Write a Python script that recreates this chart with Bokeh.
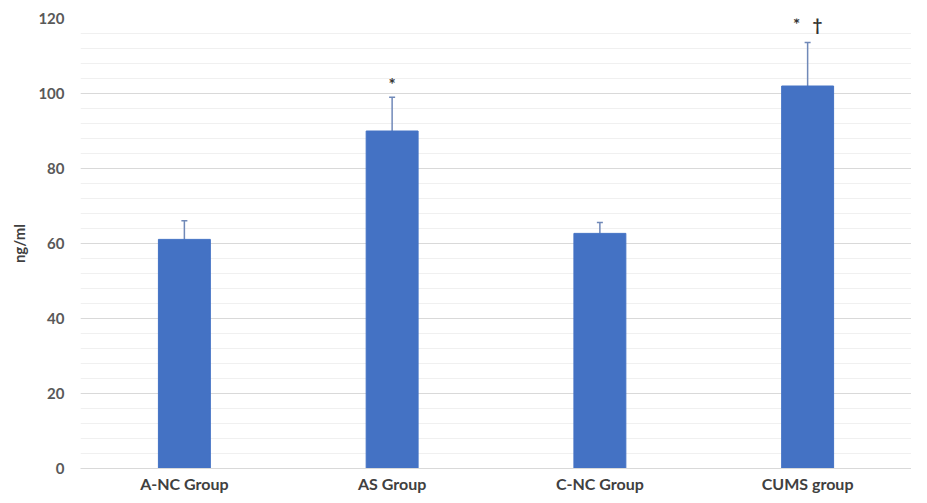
from bokeh.plotting import figure
from bokeh.models import ColumnDataSource, Whisker, FactorRange, SingleIntervalTicker, Range1d, TeeHead
from bokeh.core.properties import value
from bokeh.embed import file_html
from bokeh.resources import INLINE

groups = ["A-NC Group", "AS Group", "C-NC Group", "CUMS group"]
means = [61.1, 90.0, 62.7, 102.0]
errors = [5.0, 9.0, 2.9, 11.6]
marks = ["", "*", "", "*\u00a0\u00a0\u00a0\u2020"]
mark_y = [0, 102.5, 0, 118.4]

upper = [m + e for m, e in zip(means, errors)]
src = ColumnDataSource(dict(g=groups, m=means, up=upper, lo=means))
msrc = ColumnDataSource(dict(g=[g for g, t in zip(groups, marks) if t],
                             y=[y for y, t in zip(mark_y, marks) if t],
                             t=[t for t in marks if t]))

p = figure(x_range=FactorRange(*groups), y_range=Range1d(0, 120),
           width=911, height=495, output_backend="svg", toolbar_location=None,
           min_border_left=80, min_border_right=0, min_border_top=18, min_border_bottom=20)
p.outline_line_color = None

p.vbar(x="g", top="m", width=0.25, source=src, fill_color="#4472C4", line_color="#4472C4")
w = Whisker(base="g", upper="up", lower="lo", source=src, line_color="#7089b8", line_width=1.5,
            lower_head=None)
w.upper_head = TeeHead(size=6, line_color="#7089b8", line_width=1.5)
p.add_layout(w)

p.text(x="g", y="y", text="t", source=msrc, text_align="center", text_baseline="middle",
       text_font=value("Lato"), text_font_size="17px", text_font_style="bold", text_color="#333333")

p.yaxis.ticker = SingleIntervalTicker(interval=20, num_minor_ticks=5)
p.yaxis.axis_line_color = None
p.yaxis.major_tick_line_color = None
p.yaxis.minor_tick_line_color = None
p.yaxis.major_tick_out = 0
p.yaxis.minor_tick_out = 0
p.yaxis.major_label_standoff = 16
p.yaxis.major_label_text_font = "Lato"
p.yaxis.major_label_text_font_size = "15px"
p.yaxis.major_label_text_font_style = "bold"
p.yaxis.major_label_text_color = "#595959"
p.yaxis.axis_label = "ng/ml"
p.yaxis.axis_label_text_font = "Lato"
p.yaxis.axis_label_text_font_size = "15px"
p.yaxis.axis_label_text_font_style = "bold"
p.yaxis.axis_label_text_color = "#404040"
p.yaxis.axis_label_standoff = 7

p.xaxis.axis_line_color = "#d9d9d9"
p.xaxis.major_tick_line_color = None
p.xaxis.minor_tick_line_color = None
p.xaxis.major_tick_out = 0
p.xaxis.minor_tick_out = 0
p.xaxis.major_label_standoff = 5
p.xaxis.major_label_text_font = "Lato"
p.xaxis.major_label_text_font_size = "16px"
p.xaxis.major_label_text_font_style = "bold"
p.xaxis.major_label_text_color = "#404040"

p.xgrid.grid_line_color = None
p.ygrid.grid_line_color = "#d9d9d9"
p.ygrid.minor_grid_line_color = "#f0f0f0"

open("out.html", "w").write(file_html(p, INLINE))
